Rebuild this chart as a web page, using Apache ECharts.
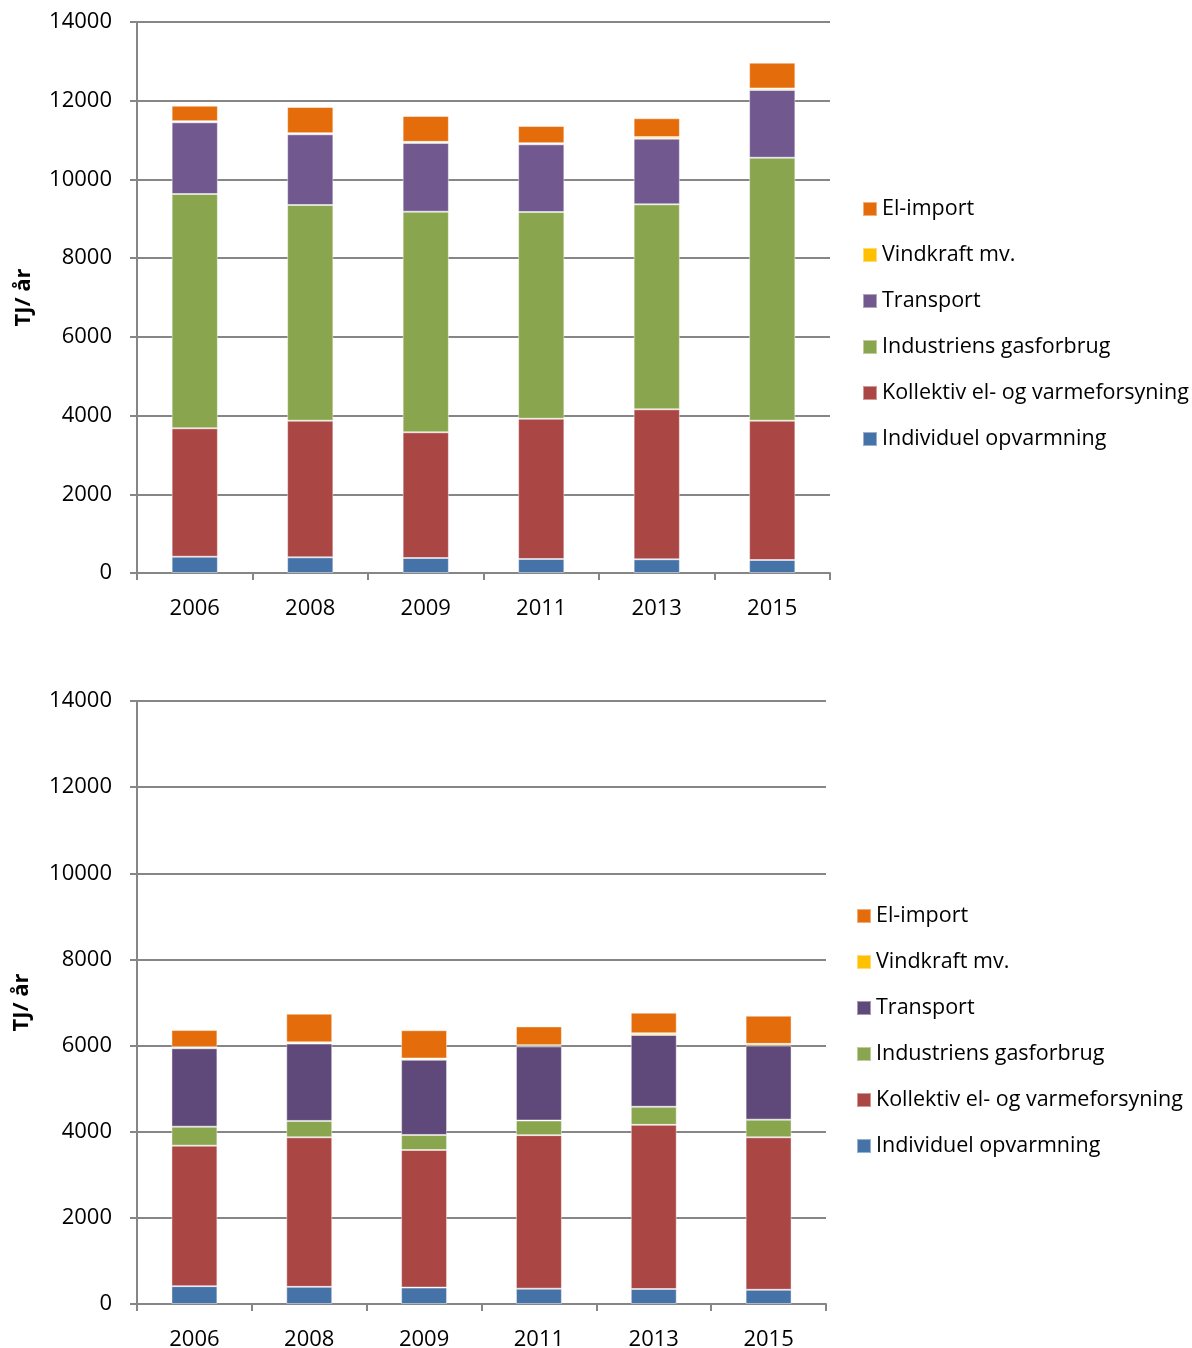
<!DOCTYPE html>
<html>
<head>
<meta charset="utf-8">
<script src="https://cdn.jsdelivr.net/npm/echarts@6/dist/echarts.min.js"></script>
<style>
  html, body { margin: 0; padding: 0; background: #ffffff; }
  #top { position: absolute; left: 0; top: 0; width: 1192px; height: 650px; }
  #bottom { position: absolute; left: 0; top: 650px; width: 1192px; height: 698px; }
</style>
</head>
<body>
<div id="top"></div>
<div id="bottom"></div>
<script>
// Energy use by sector, TJ per year
const years = ['2006', '2008', '2009', '2011', '2013', '2015'];
const individuel = [414, 398, 381, 356, 348, 330];
const kollektiv = [3263, 3472, 3194, 3564, 3811, 3540];
const industriGasAll = [5953, 5480, 5605, 5252, 5209, 6682];
const industriGasShare = [440, 380, 350, 340, 420, 410];
const transport = [1821, 1796, 1745, 1720, 1667, 1720];
const vindkraft = [30, 30, 30, 30, 40, 40];
const elImport = [392, 664, 656, 435, 478, 654];

const yTicks = { min: 0, max: 14000, interval: 2000 };
const legendOrder = ['El-import', 'Vindkraft mv.', 'Transport', 'Industriens gasforbrug',
  'Kollektiv el- og varmeforsyning', 'Individuel opvarmning'];

const FONT = '"Open Sans", "Noto Sans", sans-serif';
const AXIS = '#868686';

function buildOption(cfg) {
  const stackDefs = [
    ['Individuel opvarmning', individuel, '#4572A7'],
    ['Kollektiv el- og varmeforsyning', kollektiv, '#AA4643'],
    ['Industriens gasforbrug', cfg.industry, '#89A54E'],
    ['Transport', transport, cfg.purple],
    ['Vindkraft mv.', vindkraft, '#FFC000'],
    ['El-import', elImport, '#E46C0A']
  ];
  return {
    animation: false,
    textStyle: { fontFamily: FONT },
    grid: {
      left: 137, top: cfg.gridTop, width: cfg.gridWidth, height: cfg.gridHeight,
      outerBoundsMode: 'none', containLabel: false
    },
    legend: {
      orient: 'vertical',
      left: cfg.legendLeft,
      top: cfg.legendTop,
      padding: 0,
      itemWidth: 14,
      itemHeight: 14,
      itemGap: 22,
      icon: 'rect',
      data: legendOrder,
      textStyle: { fontFamily: FONT, fontSize: 21.5, color: '#000', lineHeight: 24 }
    },
    xAxis: {
      type: 'category',
      data: years,
      axisLine: { lineStyle: { color: AXIS, width: 2 } },
      axisTick: { show: true, length: 7, lineStyle: { color: AXIS, width: 2 } },
      axisLabel: { fontFamily: FONT, fontSize: 22, color: '#000', margin: 25 }
    },
    yAxis: {
      type: 'value',
      min: yTicks.min,
      max: yTicks.max,
      interval: yTicks.interval,
      name: 'TJ/ år',
      nameLocation: 'middle',
      nameRotate: 90,
      nameGap: cfg.nameGap,
      nameTextStyle: { fontFamily: FONT, fontSize: 22, fontWeight: 'bold', color: '#000' },
      axisLine: { show: true, lineStyle: { color: AXIS, width: 2 } },
      axisTick: { show: true, length: 7, lineStyle: { color: AXIS, width: 2 } },
      splitLine: { lineStyle: { color: AXIS, width: 2 } },
      axisLabel: {
        fontFamily: FONT, fontSize: 22, color: '#000', margin: 25,
        formatter: (v) => String(v)
      }
    },
    series: stackDefs.map(([name, values, color]) => ({
      name: name,
      type: 'bar',
      stack: 'total',
      barWidth: '40%',
      data: values,
      itemStyle: { color: color, borderColor: 'rgba(255,255,255,0.45)', borderWidth: 1 }
    }))
  };
}

const topChart = echarts.init(document.getElementById('top'));
topChart.setOption(buildOption({
  industry: industriGasAll,
  purple: '#71588F',
  gridTop: 22, gridWidth: 693, gridHeight: 551,
  legendLeft: 862, legendTop: 197, nameGap: 102
}));

const bottomChart = echarts.init(document.getElementById('bottom'));
bottomChart.setOption(buildOption({
  industry: industriGasShare,
  purple: '#5F497A',
  gridTop: 51, gridWidth: 689, gridHeight: 603,
  legendLeft: 856, legendTop: 254, nameGap: 104
}));
</script>
</body>
</html>
